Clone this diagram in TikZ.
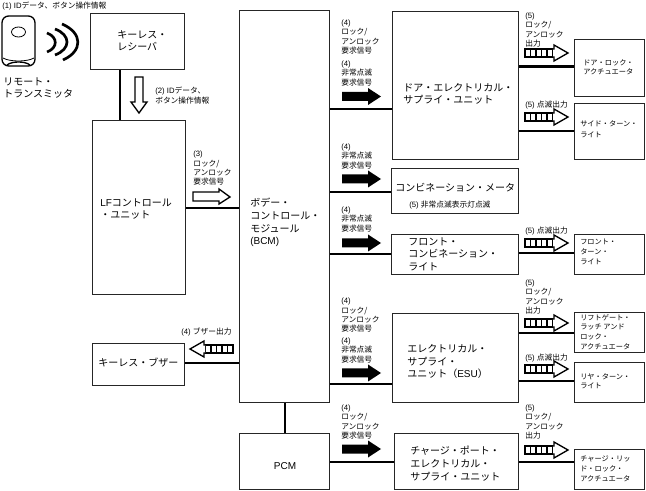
\documentclass[tikz,border=0pt]{standalone}
\usepackage{fontspec}
\setmainfont{Liberation Sans}
\newfontfamily\jpf{Noto Sans CJK JP}
\newcommand{\jj}[1]{{\jpf #1}}
\usetikzlibrary{calc}
\tikzset{
  x=0.75pt,y=-0.75pt,
  box/.style={draw=black!85,line width=0.9pt,inner sep=0pt},
  conn/.style={draw=black,line width=2.1pt},
  big/.style={inner sep=0pt,anchor=north west,align=left,font=\fontsize{7.5}{9.5}\selectfont},
  small/.style={inner sep=0pt,anchor=north west,align=left,font=\fontsize{5.8}{7}\selectfont},
  act/.style={inner sep=0pt,anchor=north west,align=left,font=\fontsize{5.4}{7.2}\selectfont},
  blackarrow/.pic={\fill[black] (0,-4.5) -- (26,-4.5) -- (26,-8.5) -- (39,0) -- (26,8.5) -- (26,4.5) -- (0,4.5) -- cycle;},
  pulseright/.pic={
    \foreach \i in {0,1,2,3,4}{\draw[line width=1pt] (5.5*\i,-4) rectangle ++(5.5,8);}
    \draw[line width=1pt,fill=white] (28,-4) -- (29,-4) -- (29,-8) -- (43,0) -- (29,8) -- (29,4) -- (28,4);},
  pulseleft/.pic={
    \foreach \i in {0,1,2,3,4}{\draw[line width=1pt] (-5.5*\i,-4) rectangle ++(-5.5,8);}
    \draw[line width=1pt,fill=white] (-28,-4) -- (-29,-4) -- (-29,-8) -- (-43,0) -- (-29,8) -- (-29,4) -- (-28,4);},
}
\begin{document}
\begin{tikzpicture}
\useasboundingbox (0,0) rectangle (646,491);
\fill[white] (0,0) rectangle (646,491);
% boxes
\newcommand{\bx}[5]{\node[box,minimum width=#4*0.75pt-0.9pt,minimum height=#5*0.75pt-0.9pt,anchor=north west] (#1) at (#2,#3) {};}
\bx{recv}{90}{13}{95}{57}
\bx{lf}{92}{120}{94}{175}
\bx{bcm}{239}{10}{91}{393}
\bx{doorsu}{392}{11}{127}{149}
\bx{meter}{391}{168}{128}{46}
\bx{front}{391}{234}{128}{41}
\bx{esu}{392}{313}{127}{90}
\bx{chg}{394}{433}{125}{57}
\bx{pcm}{239}{433}{91}{57}
\bx{buzz}{92}{343}{93}{43}
\bx{dla}{574}{39}{71}{58}
\bx{stl}{574}{103}{71}{57}
\bx{ftl}{574}{234}{71}{41}
\bx{lga}{574}{312}{71}{41}
\bx{rtl}{574}{362}{71}{41}
\bx{cla}{574}{449}{71}{41}
% connectors
\draw[conn] (recv.south -| 120,0) -- (lf.north -| 120,0);
\draw[conn] (lf.east |- 0,208) -- (bcm.west |- 0,208);
\draw[conn] (buzz.east |- 0,363) -- (bcm.west |- 0,363);
\draw[conn] (bcm.south -| 285,0) -- (pcm.north -| 285,0);
\draw[conn] (bcm.east |- 0,109) -- (doorsu.west |- 0,109);
\draw[conn] (bcm.east |- 0,192) -- (meter.west |- 0,192);
\draw[conn] (bcm.east |- 0,254) -- (front.west |- 0,254);
\draw[conn] (bcm.east |- 0,384) -- (esu.west |- 0,384);
\draw[conn] (pcm.east |- 0,462) -- (chg.west |- 0,462);
\draw[conn] (doorsu.east |- 0,66.5) -- (dla.west |- 0,66.5);
\draw[conn] (doorsu.east |- 0,131) -- (stl.west |- 0,131);
\draw[conn] (front.east |- 0,253) -- (ftl.west |- 0,253);
\draw[conn] (esu.east |- 0,333) -- (lga.west |- 0,333);
\draw[conn] (esu.east |- 0,381) -- (rtl.west |- 0,381);
\draw[conn] (chg.east |- 0,462) -- (cla.west |- 0,462);
% remote
\draw[line width=1pt,rounded corners=5pt,fill=white] (2,16) rectangle (35,66);
\draw[line width=0.6pt] (18.5,32) ellipse (7 and 5);
\draw[line width=1pt] (7,65) .. controls (12,61) and (25,61) .. (30,65);
\draw[line width=0.6pt] (3,58) .. controls (10,62) and (27,62) .. (34,58);
\draw[line width=2pt] (47,33) .. controls (58,37) and (58,48) .. (47,52);
\draw[line width=2pt] (55,29) .. controls (71,35) and (71,49) .. (55,55);
\draw[line width=2pt] (62,24) .. controls (83,33) and (83,51) .. (63,60);
% arrows
\draw[line width=1pt,fill=white] (135,77) -- (143,77) -- (143,102) -- (147,102) -- (139,113) -- (131,102) -- (135,102) -- cycle;
\draw[line width=1pt,fill=white] (193,192) -- (219,192) -- (219,189) -- (230,197) -- (219,204) -- (219,201) -- (193,201) -- cycle;
\pic at (342,96.5) {blackarrow};
\pic at (342,179) {blackarrow};
\pic at (342,243) {blackarrow};
\pic at (342,373) {blackarrow};
\pic at (342,449) {blackarrow};
\pic at (525,53) {pulseright};
\pic at (525,117) {pulseright};
\pic at (525,243) {pulseright};
\pic at (525,323) {pulseright};
\pic at (525,369) {pulseright};
\pic at (525,450) {pulseright};
\pic at (233,349) {pulseleft};
% texts
\node[small] (t1) at (2,1.5) {(1) ID\jj{データ、ボタン操作情報}};
\node[big] (t2) at (3,77) {\jj{リモート・}\\\jj{トランスミッタ}};
\node[big] (t3) at (117,30) {\jj{キーレス・}\\\jj{レシーバ}};
\node[small] (t4) at (155,87) {(2) ID\jj{データ、}\\\jj{ボタン操作情報}};
\node[big] (t5) at (100,198) {LF\jj{コントロール}\\\jj{・ユニット}};
\node[small] (t6) at (193,151) {(3)\\\jj{ロック/}\\\jj{アンロック}\\\jj{要求信号}};
\node[big] (t7) at (250,198) {\jj{ボデー・}\\\jj{コントロール・}\\\jj{モジュール}\\(BCM)};
\node[small] (t8) at (341,19.5) {(4)\\\jj{ロック/}\\\jj{アンロック}\\\jj{要求信号}};
\node[small] (t9) at (341,60.5) {(4)\\\jj{非常点滅}\\\jj{要求信号}};
\node[small] (t10) at (341,143.5) {(4)\\\jj{非常点滅}\\\jj{要求信号}};
\node[small] (t11) at (341,206.5) {(4)\\\jj{非常点滅}\\\jj{要求信号}};
\node[small] (t12) at (341,298) {(4)\\\jj{ロック/}\\\jj{アンロック}\\\jj{要求信号}};
\node[small] (t13) at (341,337.5) {(4)\\\jj{非常点滅}\\\jj{要求信号}};
\node[small] (t14) at (341,404.5) {(4)\\\jj{ロック/}\\\jj{アンロック}\\\jj{要求信号}};
\node[small] (t15) at (181,328) {(4) \jj{ブザー出力}};
\node[big] (t16) at (98,358) {\jj{キーレス・ブザー}};
\node[big,anchor=center] (t17) at (285,466) {PCM};
\node[big] (t18) at (403,83) {\jj{ドア・エレクトリカル・}\\\jj{サプライ・ユニット}};
\node[big] (t19) at (395,183) {\jj{コンビネーション・メータ}};
\node[small] (t20) at (409,201) {(5) \jj{非常点滅表示灯点滅}};
\node[big] (t21) at (408,237) {\jj{フロント・}\\\jj{コンビネーション・}\\\jj{ライト}};
\node[big] (t22) at (407,344) {\jj{エレクトリカル・}\\\jj{サプライ・}\\\jj{ユニット（}ESU\jj{）}};
\node[big] (t23) at (410,446) {\jj{チャージ・ポート・}\\\jj{エレクトリカル・}\\\jj{サプライ・ユニット}};
\node[small] (t24) at (525,12.5) {(5)\\\jj{ロック/}\\\jj{アンロック}\\\jj{出力}};
\node[small] (t25) at (525,101) {(5) \jj{点滅出力}};
\node[small] (t26) at (525,227) {(5) \jj{点滅出力}};
\node[small] (t27) at (525,279.5) {(5)\\\jj{ロック/}\\\jj{アンロック}\\\jj{出力}};
\node[small] (t28) at (525,354) {(5) \jj{点滅出力}};
\node[small] (t29) at (525,404.5) {(5)\\\jj{ロック/}\\\jj{アンロック}\\\jj{出力}};
\node[act] (t30) at (583,59) {\jj{ドア・ロック・}\\\jj{アクチュエータ}};
\node[act] (t31) at (580,120) {\jj{サイド・ターン・}\\[1pt]\jj{ライト}};
\node[act] (t32) at (580,239) {\jj{フロント・}\\\jj{ターン・}\\\jj{ライト}};
\node[act] (t33) at (580,314) {\jj{リフトゲート・}\\\jj{ラッチ アンド}\\\jj{ロック・}\\\jj{アクチュエータ}};
\node[act] (t34) at (580,373) {\jj{リヤ・ターン・}\\\jj{ライト}};
\node[act] (t35) at (580,456) {\jj{チャージ・リッ}\\\jj{ド・ロック・}\\\jj{アクチュエータ}};
\end{tikzpicture}
\end{document}
